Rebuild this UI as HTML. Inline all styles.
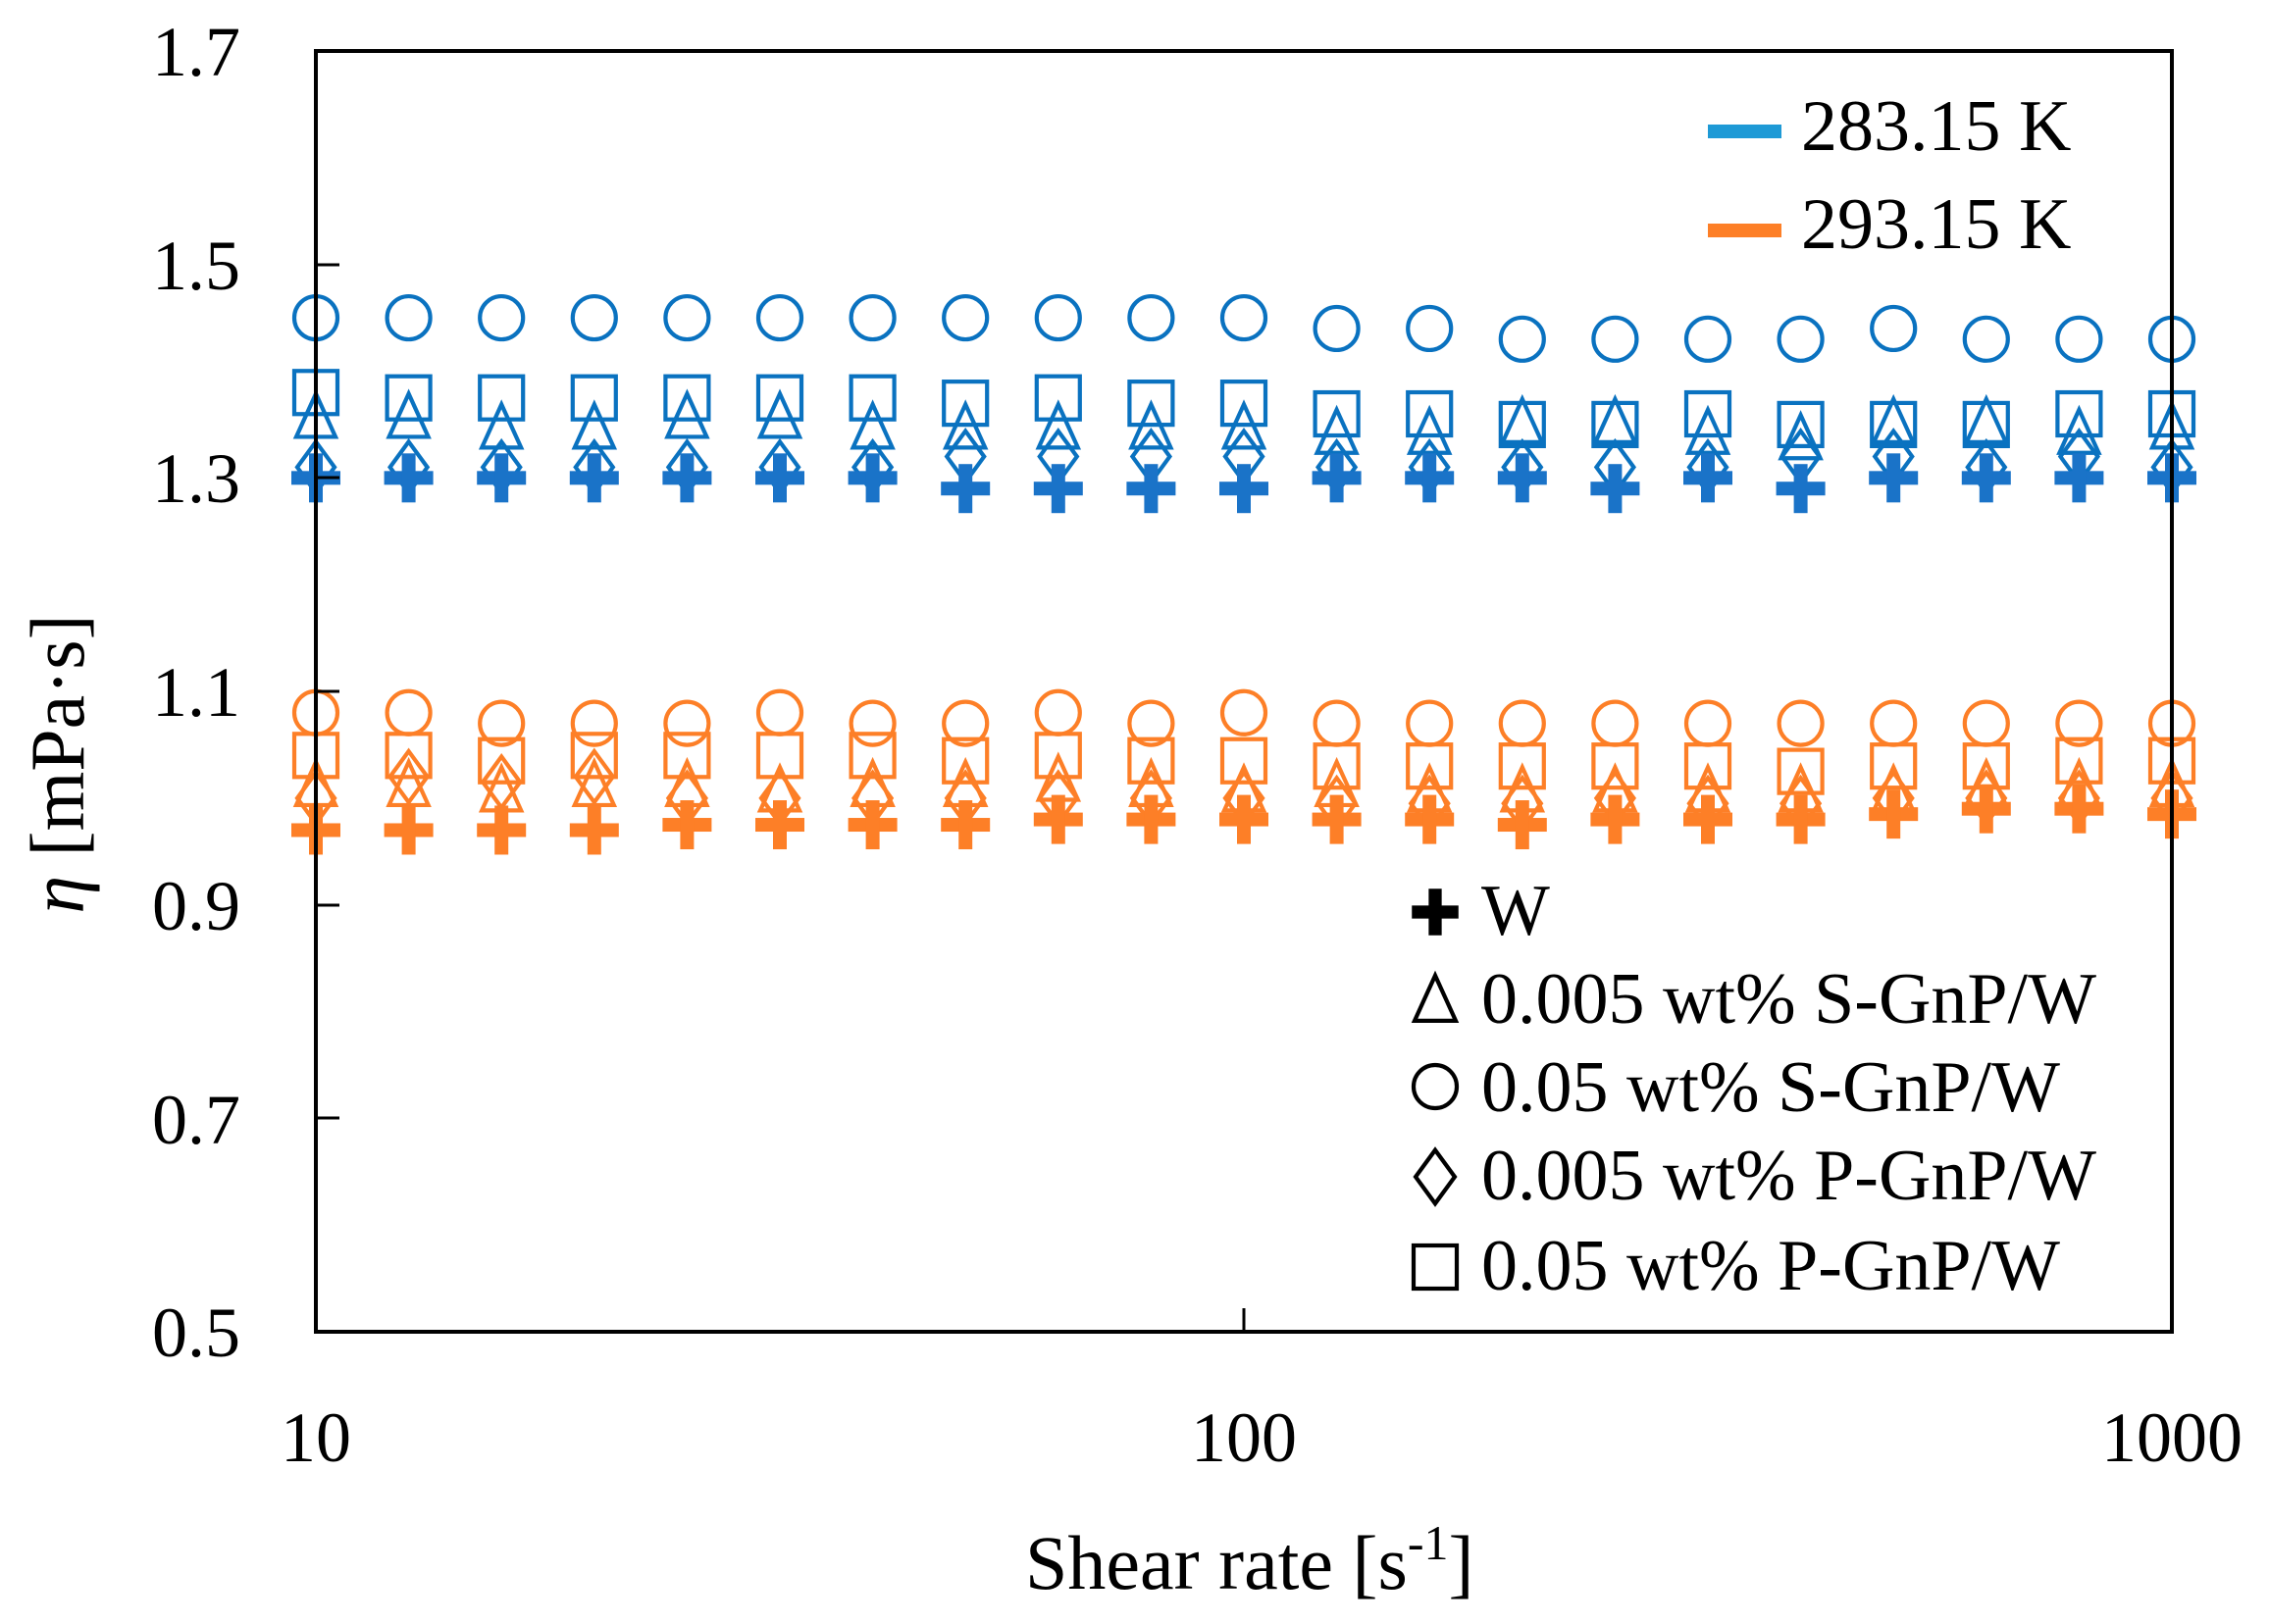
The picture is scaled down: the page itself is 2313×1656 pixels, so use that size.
<!DOCTYPE html>
<html><head><meta charset="utf-8"><style>
html,body{margin:0;padding:0;background:#fff;}
svg{display:block;}
text{font-family:"Liberation Serif",serif;fill:#000;}
</style></head><body>
<svg id="s" width="2313" height="1656" viewBox="0 0 2313 1656" xmlns="http://www.w3.org/2000/svg">
<g font-size="72">
<text x="245" y="77" text-anchor="end">1.7</text>
<text x="245" y="295" text-anchor="end">1.5</text>
<text x="245" y="512" text-anchor="end">1.3</text>
<text x="245" y="730" text-anchor="end">1.1</text>
<text x="245" y="948" text-anchor="end">0.9</text>
<text x="245" y="1166" text-anchor="end">0.7</text>
<text x="245" y="1383" text-anchor="end">0.5</text>
<text x="322" y="1490" text-anchor="middle">10</text>
<text x="1268" y="1490" text-anchor="middle">100</text>
<text x="2214" y="1490" text-anchor="middle">1000</text>
<text x="1045" y="1620" font-size="78">Shear rate [s<tspan dy="-30" font-size="50">-1</tspan><tspan dy="30">]</tspan></text>
<text transform="translate(85,779) rotate(-90)" text-anchor="middle" font-size="78"><tspan font-style="italic">η</tspan> [mPa·s]</text>
</g>
<g id="data"></g>
<rect x="322" y="52" width="1892" height="1306" fill="none" stroke="#000" stroke-width="4"/>
<g stroke="#000" stroke-width="3">
<line x1="322" y1="270" x2="346" y2="270"/><line x1="322" y1="487" x2="346" y2="487"/>
<line x1="322" y1="705" x2="346" y2="705"/><line x1="322" y1="923" x2="346" y2="923"/>
<line x1="322" y1="1140" x2="346" y2="1140"/><line x1="1268" y1="1358" x2="1268" y2="1334"/>
</g>
<rect x="1741" y="127" width="75" height="14" fill="#1e9ad6"/>
<rect x="1741" y="228" width="75" height="14" fill="#fd7f27"/>
<text x="1836" y="153" font-size="74">283.15 K</text>
<text x="1836" y="253" font-size="74">293.15 K</text>
<g font-size="74">
<text x="1510" y="953">W</text>
<text x="1510" y="1043">0.005 wt% S-GnP/W</text>
<text x="1510" y="1133">0.05 wt% S-GnP/W</text>
<text x="1510" y="1223">0.005 wt% P-GnP/W</text>
<text x="1510" y="1315">0.05 wt% P-GnP/W</text>
</g>
<g id="leg"></g>
</svg>
<script>
var NS="http://www.w3.org/2000/svg";
function Y(v){return 1358-(v-0.5)/0.2*217.67;}
function X(k){return 322+k*94.6;}
function el(p,t,a){var e=document.createElementNS(NS,t);for(var k in a)e.setAttribute(k,a[k]);p.appendChild(e);return e;}
function mk(p,type,x,y,c,s){
 s=s||1;var r=22*s,sw=4.2;
 if(type=="c")el(p,"circle",{cx:x,cy:y,r:r,fill:"none",stroke:c,"stroke-width":sw});
 if(type=="s")el(p,"rect",{x:x-r,y:y-r,width:2*r,height:2*r,fill:"none",stroke:c,"stroke-width":sw});
 if(type=="t")el(p,"polygon",{points:(x)+","+(y-26*s)+" "+(x-20*s)+","+(y+18*s)+" "+(x+20*s)+","+(y+18*s),fill:"none",stroke:c,"stroke-width":sw});
 if(type=="d")el(p,"polygon",{points:x+","+(y-26*s)+" "+(x+19*s)+","+y+" "+x+","+(y+26*s)+" "+(x-19*s)+","+y,fill:"none",stroke:c,"stroke-width":sw});
 if(type=="p"){el(p,"rect",{x:x-25*s,y:y-7*s,width:50*s,height:14*s,fill:c});el(p,"rect",{x:x-7*s,y:y-25*s,width:14*s,height:50*s,fill:c});}
}
var g=document.getElementById("data");
var B="#0a72c0",BP="#1a73c8",O="#fd7f27";
var d={
 bs:[1.38,1.375,1.375,1.375,1.375,1.375,1.375,1.37,1.375,1.37,1.37,1.36,1.36,1.35,1.35,1.36,1.35,1.35,1.35,1.36,1.36],
 bt:[1.355,1.355,1.345,1.345,1.355,1.355,1.345,1.345,1.345,1.345,1.345,1.34,1.34,1.35,1.35,1.34,1.335,1.35,1.35,1.34,1.345],
 bd:[1.31,1.31,1.31,1.31,1.31,1.31,1.31,1.32,1.32,1.32,1.32,1.31,1.31,1.31,1.31,1.31,1.32,1.32,1.31,1.32,1.31],
 bp:[1.30,1.30,1.30,1.30,1.30,1.30,1.30,1.29,1.29,1.29,1.29,1.30,1.30,1.30,1.29,1.30,1.29,1.30,1.30,1.30,1.30],
 bc:[1.45,1.45,1.45,1.45,1.45,1.45,1.45,1.45,1.45,1.45,1.45,1.44,1.44,1.43,1.43,1.43,1.43,1.44,1.43,1.43,1.43],
 os:[1.04,1.04,1.035,1.04,1.04,1.04,1.04,1.035,1.04,1.035,1.035,1.03,1.03,1.03,1.03,1.03,1.025,1.03,1.03,1.035,1.035],
 ot:[1.01,1.01,1.005,1.01,1.01,1.005,1.01,1.01,1.015,1.01,1.005,1.01,1.005,1.005,1.005,1.005,1.005,1.005,1.01,1.01,1.01],
 od:[1.00,1.02,1.015,1.02,1.0,1.0,1.0,1.0,1.0,1.0,1.0,0.995,0.995,0.995,1.0,0.995,0.995,1.0,1.0,1.0,1.0],
 op:[0.97,0.97,0.97,0.97,0.975,0.975,0.975,0.975,0.98,0.98,0.98,0.98,0.98,0.975,0.98,0.98,0.98,0.985,0.99,0.99,0.985],
 oc:[1.08,1.08,1.07,1.07,1.07,1.08,1.07,1.07,1.08,1.07,1.08,1.07,1.07,1.07,1.07,1.07,1.07,1.07,1.07,1.07,1.07]
};
var order=[["bs","s",B],["bt","t",B],["bd","d",B],["bp","p",BP],["bc","c",B],["os","s",O],["ot","t",O],["od","d",O],["op","p",O],["oc","c",O]];
order.forEach(function(o){d[o[0]].forEach(function(v,k){mk(g,o[1],X(k),Y(v),o[2]);});});
var L=document.getElementById("leg");
mk(L,"p",1463,930,"#000",0.95);
mk(L,"t",1463,1022,"#000",1.05);
mk(L,"c",1463,1108,"#000",1.0);
mk(L,"d",1463,1200,"#000",1.05);
mk(L,"s",1463,1292,"#000",1.0);
</script>
</body></html>
